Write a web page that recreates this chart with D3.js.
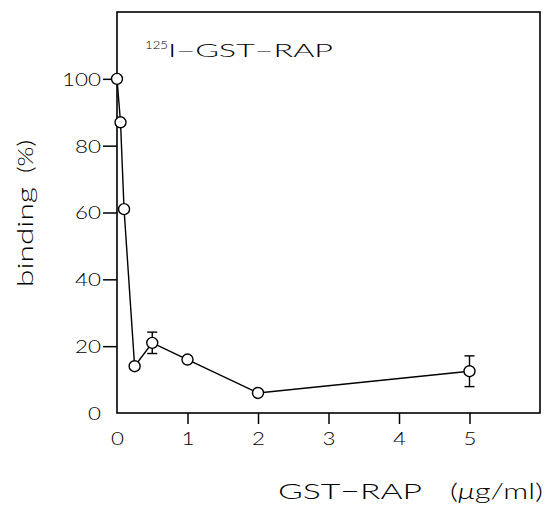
<!DOCTYPE html>
<html><head><meta charset="utf-8">
<script src="https://cdn.jsdelivr.net/npm/d3@7"></script>
<style>body{margin:0;background:#fff}svg{display:block}</style>
</head><body><svg id="c" width="545" height="508"></svg>
<script>
// Data
const concentrations = [0, 0.05, 0.1, 0.25, 0.5, 1, 2, 5];     // GST-RAP (µg/ml)
const binding        = [100, 87, 61, 14, 21, 16, 6, 12.5];     // binding (%)
const errors         = [0, 0, 0, 0, 3.2, 0, 0, 4.6];           // error bar half-length
const xTickValues = [0, 1, 2, 3, 4, 5];
const yTickValues = [0, 20, 40, 60, 80, 100];
const titleSup = "125";
const titleMain = "I\u2212GST\u2212RAP";
const xLabelMain = "GST\u2212RAP";
const yLabelMain = "binding";
const yLabelUnit = "(%)";

const FONT = "Lato";
const WEIGHT = 300;
const svg = d3.select("#c");
const x = d3.scaleLinear().domain([0, 6]).range([117, 540]);
const y = d3.scaleLinear().domain([0, 120]).range([413, 12]);

// frame
svg.append("rect").attr("x", x(0)).attr("y", y(120))
  .attr("width", x(6) - x(0)).attr("height", y(0) - y(120))
  .attr("fill", "none").attr("stroke", "#000").attr("stroke-width", 1.6);

// axes
const yAxis = svg.append("g").attr("transform", `translate(${x(0)},0)`)
  .call(d3.axisLeft(y).tickValues(yTickValues).tickFormat(d3.format("d")).tickSize(14).tickPadding(2));
const xAxis = svg.append("g").attr("transform", `translate(0,${y(0)})`)
  .call(d3.axisBottom(x).tickValues(xTickValues).tickFormat(d3.format("d")).tickSize(11).tickPadding(8));
[yAxis, xAxis].forEach(g => {
  g.select(".domain").remove();
  g.selectAll(".tick line").attr("stroke", "#000").attr("stroke-width", 1.5)
    .filter(d => d === 0).remove();
  g.selectAll(".tick text").attr("fill", "#000").attr("font-family", FONT)
    .attr("font-weight", WEIGHT).attr("font-size", 18)
    .attr("textLength", function(d){ return String(d).length * 13; })
    .attr("lengthAdjust", "spacingAndGlyphs");
});
yAxis.selectAll(".tick text").attr("dy", "0.36em");

// line
const line = d3.line().x((d, i) => x(concentrations[i])).y(d => y(d));
svg.append("path").datum(binding).attr("d", line)
  .attr("fill", "none").attr("stroke", "#000").attr("stroke-width", 1.4);

// error bars
const eb = svg.append("g").attr("stroke", "#000").attr("stroke-width", 1.4);
binding.forEach((v, i) => {
  if (!errors[i]) return;
  const cx = x(concentrations[i]);
  eb.append("line").attr("x1", cx).attr("x2", cx).attr("y1", y(v - errors[i])).attr("y2", y(v + errors[i]));
  [v - errors[i], v + errors[i]].forEach(e =>
    eb.append("line").attr("x1", cx - 5).attr("x2", cx + 5).attr("y1", y(e)).attr("y2", y(e)));
});

// markers
svg.append("g").selectAll("circle").data(binding).join("circle")
  .attr("cx", (d, i) => x(concentrations[i])).attr("cy", d => y(d)).attr("r", 5.5)
  .attr("fill", "#fff").attr("stroke", "#000").attr("stroke-width", 1.4);

// title
svg.append("text").attr("x", 145).attr("y", 49).attr("font-family", FONT).attr("font-weight", WEIGHT)
  .attr("font-size", 11).attr("textLength", 23).attr("lengthAdjust", "spacingAndGlyphs").text(titleSup);
svg.append("text").attr("x", 168).attr("y", 57).attr("font-family", FONT).attr("font-weight", WEIGHT)
  .attr("font-size", 18).attr("textLength", 165).attr("lengthAdjust", "spacingAndGlyphs").text(titleMain);

// x label
svg.append("text").attr("x", 278).attr("y", 499).attr("font-family", FONT).attr("font-weight", WEIGHT)
  .attr("font-size", 22).attr("textLength", 144).attr("lengthAdjust", "spacingAndGlyphs").text(xLabelMain);
const xu = svg.append("text").attr("x", 450).attr("y", 499).attr("font-family", FONT).attr("font-weight", WEIGHT)
  .attr("font-size", 22).attr("textLength", 93).attr("lengthAdjust", "spacingAndGlyphs");
xu.append("tspan").text("(");
xu.append("tspan").attr("font-style", "italic").text("\u03bc");
xu.append("tspan").text("g/ml)");

// y label
svg.append("text").attr("transform", "translate(33,287) rotate(-90)")
  .attr("font-family", FONT).attr("font-weight", WEIGHT).attr("font-size", 22)
  .attr("textLength", 100).attr("lengthAdjust", "spacingAndGlyphs").text(yLabelMain);
svg.append("text").attr("transform", "translate(33,173) rotate(-90)")
  .attr("font-family", FONT).attr("font-weight", WEIGHT).attr("font-size", 22)
  .attr("textLength", 33).attr("lengthAdjust", "spacingAndGlyphs").text(yLabelUnit);
</script></body></html>
